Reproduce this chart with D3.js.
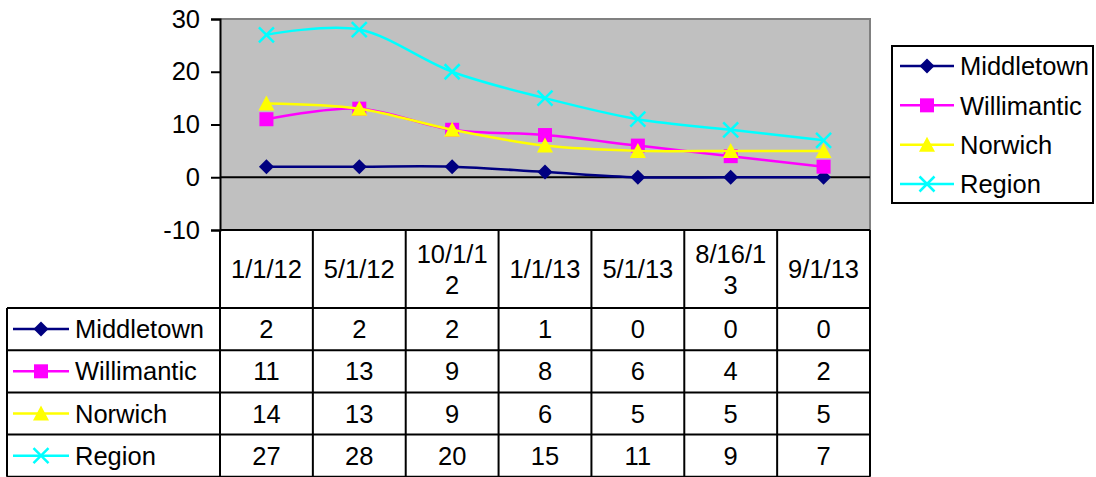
<!DOCTYPE html>
<html>
<head>
<meta charset="utf-8">
<script src="https://cdn.jsdelivr.net/npm/d3@7"></script>
<style>
  body { margin: 0; background: #fff; }
  svg text { font-family: "Liberation Sans", Arial, sans-serif; fill: #000; }
</style>
</head>
<body>
<div id="chart"></div>
<script>
'use strict';
// chart data
var categories = ["1/1/12", "5/1/12", "10/1/12", "1/1/13", "5/1/13", "8/16/13", "9/1/13"];
var seriesNames = ["Middletown", "Willimantic", "Norwich", "Region"];
var middletown = [2, 2, 2, 1, 0, 0, 0];
var willimantic = [11, 13, 9, 8, 6, 4, 2];
var norwich = [14, 13, 9, 6, 5, 5, 5];
var region = [27, 28, 20, 15, 11, 9, 7];
var yTicks = [-10, 0, 10, 20, 30];

var seriesColors = ["#000080", "#FF00FF", "#FFFF00", "#00FFFF"];
var seriesMarkers = ["diamond", "square", "triangle", "cross"];
var seriesValues = [middletown, willimantic, norwich, region];

var series = seriesNames.map(function (name, i) {
    return { name: name, values: seriesValues[i], color: seriesColors[i], marker: seriesMarkers[i] };
});

var width = 1096, height = 477;
var fontSize = 25.5;
var plot = { left: 220, right: 870, top: 19, bottom: 230 };
var tableLeft = 7;
var headerBottom = 308;
var rowH = 42.2;

var svg = d3.select("#chart").append("svg")
    .attr("width", width)
    .attr("height", height);

var x = d3.scaleBand()
    .domain(categories)
    .range([plot.left, plot.right]);

var y = d3.scaleLinear()
    .domain([-10, 30])
    .range([plot.bottom, plot.top]);

// plot background
svg.append("rect")
    .attr("x", plot.left).attr("y", plot.top)
    .attr("width", plot.right - plot.left)
    .attr("height", plot.bottom - plot.top)
    .attr("fill", "#C0C0C0");

// gray top/right border
svg.append("path")
    .attr("d", "M" + plot.left + "," + plot.top + "H" + plot.right + "V" + plot.bottom)
    .attr("fill", "none")
    .attr("stroke", "#808080")
    .attr("stroke-width", 2);

// zero line (category axis)
svg.append("line")
    .attr("x1", plot.left).attr("x2", plot.right)
    .attr("y1", y(0)).attr("y2", y(0))
    .attr("stroke", "#000").attr("stroke-width", 2);

// y axis
var yAxis = svg.append("g")
    .attr("transform", "translate(" + plot.left + ",0)")
    .call(d3.axisLeft(y).tickValues(yTicks).tickSize(9).tickPadding(11)
        .tickFormat(function (d) { return String(d); }));
yAxis.select(".domain").attr("stroke", "#000").attr("stroke-width", 2);
yAxis.selectAll(".tick line").attr("stroke", "#000").attr("stroke-width", 2);
yAxis.selectAll(".tick text")
    .attr("font-size", fontSize)
    .attr("font-family", "Liberation Sans, Arial, sans-serif")
    .attr("fill", "#000");

// marker drawing
function drawMarker(g, type, color) {
    if (type === "diamond") {
        g.append("path").attr("d", "M0,-7.5L7.5,0L0,7.5L-7.5,0Z").attr("fill", color);
    } else if (type === "square") {
        g.append("rect").attr("x", -7).attr("y", -7).attr("width", 14).attr("height", 14).attr("fill", color);
    } else if (type === "triangle") {
        g.append("path").attr("d", "M0,-8L8,7L-8,7Z").attr("fill", color);
    } else if (type === "cross") {
        g.append("path").attr("d", "M-7.5,-7.5L7.5,7.5M-7.5,7.5L7.5,-7.5")
            .attr("stroke", color).attr("stroke-width", 2.5).attr("fill", "none");
    }
}

var line = d3.line()
    .x(function (d, i) { return x(categories[i]) + x.bandwidth() / 2; })
    .y(function (d) { return y(d); })
    .curve(d3.curveCardinal.tension(0));

series.forEach(function (s) {
    var g = svg.append("g");
    g.append("path")
        .datum(s.values)
        .attr("d", line)
        .attr("fill", "none")
        .attr("stroke", s.color)
        .attr("stroke-width", 2.5);
    s.values.forEach(function (v, i) {
        var m = g.append("g")
            .attr("transform", "translate(" + (x(categories[i]) + x.bandwidth() / 2) + "," + y(v) + ")");
        drawMarker(m, s.marker, s.color);
    });
});

// legend key (line + marker)
function legendKey(parent, s, cx, cy, halfLen) {
    parent.append("line")
        .attr("x1", cx - halfLen).attr("x2", cx + halfLen)
        .attr("y1", cy).attr("y2", cy)
        .attr("stroke", s.color).attr("stroke-width", 2.5);
    var m = parent.append("g").attr("transform", "translate(" + cx + "," + cy + ")");
    drawMarker(m, s.marker, s.color);
}

// legend box
var legend = svg.append("g");
legend.append("rect")
    .attr("x", 892).attr("y", 46)
    .attr("width", 201).attr("height", 157)
    .attr("fill", "#fff")
    .attr("stroke", "#000").attr("stroke-width", 2);
var legendY = d3.scalePoint().domain(seriesNames).range([66, 184]);
series.forEach(function (s) {
    legendKey(legend, s, 927, legendY(s.name), 27);
    legend.append("text")
        .attr("x", 960).attr("y", legendY(s.name))
        .attr("dy", "0.36em")
        .attr("font-size", fontSize)
        .text(s.name);
});

// data table
var table = svg.append("g");
var rowY = function (i) { return headerBottom + i * rowH; };
var tableBottom = rowY(series.length);

// header labels, wrapped by width
categories.forEach(function (c) {
    var cx = x(c) + x.bandwidth() / 2;
    var maxW = x.bandwidth() - 12;
    var probe = table.append("text").attr("font-size", fontSize).text(c);
    var lines = [];
    if (probe.node().getComputedTextLength() <= maxW) {
        lines = [c];
    } else {
        var cur = "";
        for (var k = 0; k < c.length; k++) {
            probe.text(cur + c[k]);
            if (probe.node().getComputedTextLength() > maxW && cur.length) {
                lines.push(cur);
                cur = c[k];
            } else {
                cur += c[k];
            }
        }
        lines.push(cur);
    }
    probe.remove();
    var midY = (plot.bottom + headerBottom) / 2;
    var lh = 31;
    lines.forEach(function (t, j) {
        table.append("text")
            .attr("x", cx)
            .attr("y", midY + (j - (lines.length - 1) / 2) * lh)
            .attr("dy", "0.36em")
            .attr("text-anchor", "middle")
            .attr("font-size", fontSize)
            .text(t);
    });
});

// rows
series.forEach(function (s, i) {
    var cy = rowY(i) + rowH / 2;
    legendKey(table, s, 41, cy, 28);
    table.append("text")
        .attr("x", 75).attr("y", cy)
        .attr("dy", "0.36em")
        .attr("font-size", fontSize)
        .text(s.name);
    s.values.forEach(function (v, j) {
        table.append("text")
            .attr("x", x(categories[j]) + x.bandwidth() / 2)
            .attr("y", cy)
            .attr("dy", "0.36em")
            .attr("text-anchor", "middle")
            .attr("font-size", fontSize)
            .text(v);
    });
});

// grid lines
var grid = table.append("g").attr("stroke", "#000").attr("stroke-width", 2);
// horizontal lines
grid.append("line").attr("x1", plot.left).attr("x2", plot.right).attr("y1", plot.bottom).attr("y2", plot.bottom);
d3.range(series.length + 1).forEach(function (i) {
    grid.append("line")
        .attr("x1", tableLeft).attr("x2", plot.right)
        .attr("y1", rowY(i)).attr("y2", rowY(i));
});
// vertical lines
grid.append("line").attr("x1", tableLeft).attr("x2", tableLeft).attr("y1", headerBottom).attr("y2", tableBottom);
categories.forEach(function (c) {
    grid.append("line")
        .attr("x1", x(c)).attr("x2", x(c))
        .attr("y1", plot.bottom).attr("y2", tableBottom);
});
grid.append("line").attr("x1", plot.right).attr("x2", plot.right).attr("y1", plot.bottom).attr("y2", tableBottom);
</script>
</body>
</html>
